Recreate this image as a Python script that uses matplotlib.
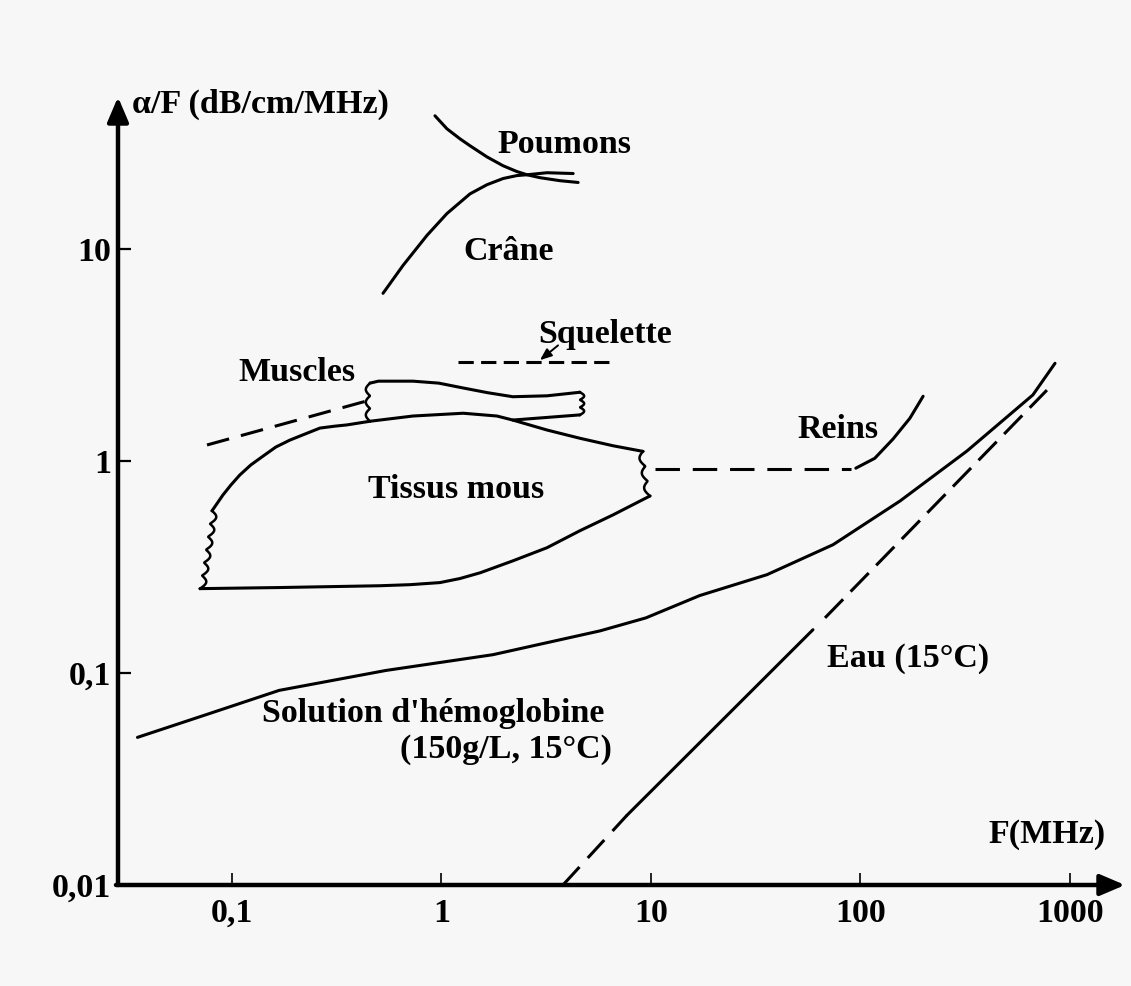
import numpy as np
import matplotlib
matplotlib.use('Agg')
import matplotlib.pyplot as plt
from matplotlib.ticker import NullLocator

plt.rcParams['font.family'] = ['Liberation Serif', 'DejaVu Serif']
plt.rcParams['font.weight'] = 'bold'

# ---- data (F in MHz, alpha/F in dB/cm/MHz) ----
poumons_f = [0.931, 1.062, 1.225, 1.368, 1.648, 1.968, 2.29, 2.56, 2.95, 3.68, 4.49]
poumons_a = [42.5, 36.9, 33.1, 30.7, 27.2, 24.7, 23.2, 22.4, 21.7, 21.0, 20.6]

crane_f = [0.526, 0.655, 0.853, 1.062, 1.368, 1.648, 1.968, 2.29, 2.56, 3.19, 4.25]
crane_a = [6.18, 8.36, 11.6, 14.7, 18.2, 20.1, 21.5, 22.2, 22.4, 22.9, 22.7]

squelette_f = [1.2, 6.73]
squelette_a = [2.92, 2.92]

muscles_dash_f = [0.076, 0.44]
muscles_dash_a = [1.19, 1.92]
muscles_top_f = [0.456, 0.50, 0.731, 0.97, 1.27, 1.66, 2.19, 3.19, 4.58]
muscles_top_a = [2.33, 2.38, 2.38, 2.33, 2.21, 2.10, 2.01, 2.03, 2.11]
muscles_low_f = [4.58, 2.19]
muscles_low_a = [1.65, 1.56]

tissus_top_f = [0.0803, 0.0906, 0.0989, 0.109, 0.123, 0.141, 0.162, 0.189, 0.223,
                0.263, 0.310, 0.354, 0.456, 0.731, 1.27, 1.84, 2.19, 3.19, 4.58,
                6.59, 9.16]
tissus_top_a = [0.582, 0.692, 0.771, 0.859, 0.958, 1.056, 1.164, 1.255, 1.34,
                1.43, 1.46, 1.48, 1.54, 1.63, 1.68, 1.63, 1.56, 1.40, 1.28,
                1.18, 1.11]
tissus_low_f = [0.0704, 0.169, 0.508, 0.708, 0.984, 1.225, 1.53, 2.19, 3.19, 4.58,
                6.59, 9.89]
tissus_low_a = [0.25, 0.253, 0.258, 0.261, 0.267, 0.279, 0.297, 0.338, 0.39, 0.469,
                0.557, 0.684]

reins_dash_f = [10.5, 90.0]
reins_dash_a = [0.917, 0.917]
reins_f = [95.0, 117, 143, 172, 199]
reins_a = [0.925, 1.03, 1.27, 1.59, 2.02]

hemo_f = [0.0354, 0.076, 0.168, 0.543, 1.76, 5.71, 9.46, 17.1, 35.8, 74,
          154.5, 322, 665, 848]
hemo_a = [0.0497, 0.0638, 0.0828, 0.1028, 0.122, 0.158, 0.182, 0.232,
          0.291, 0.403, 0.648, 1.114, 2.05, 2.89]

eau_dash1_f = [3.8, 7.67]
eau_dash1_a = [0.0100, 0.0213]
eau_f = [7.67, 59.3]
eau_a = [0.0213, 0.160]
eau_dash2_f = [67.7, 776]
eau_dash2_a = [0.182, 2.16]

xtick_vals = [0.1, 1, 10, 100, 1000]
xtick_labels = ['0,1', '1', '10', '100', '1000']
ytick_vals = [0.01, 0.1, 1, 10]
ytick_labels = ['0,01', '0,1', '1', '10']

# ---- figure ----
W, H = 1131, 986
fig = plt.figure(figsize=(W / 100, H / 100), dpi=100, facecolor='#f7f7f7')
ax = fig.add_axes([118 / W, 1 - 885 / H, (1125 - 118) / W, (885 - 97) / H])
ax.set_facecolor('none')
ax.set_xscale('log')
ax.set_yscale('log')
ax.set_xlim(10 ** -1.544, 10 ** 3.2625)
ax.set_ylim(0.01, 10 ** 1.717)

for s in ax.spines.values():
    s.set_visible(False)

# axes drawn as arrows
arrow = dict(arrowstyle='-|>,head_length=0.75,head_width=0.32', lw=3.2,
             color='black', shrinkA=0, shrinkB=0, mutation_scale=20)
ax.annotate('', xy=(0, 1), xytext=(0, 0), xycoords='axes fraction', arrowprops=arrow)
ax.annotate('', xy=(1, 0), xytext=(-0.002, 0), xycoords='axes fraction', arrowprops=arrow)

ax.set_xticks(xtick_vals)
ax.set_xticklabels(xtick_labels)
ax.set_yticks(ytick_vals)
ax.set_yticklabels(ytick_labels)
ax.xaxis.set_minor_locator(NullLocator())
ax.yaxis.set_minor_locator(NullLocator())
ax.tick_params(axis='x', direction='in', length=8.5, width=1.2, pad=9, labelsize=24.5)
ax.tick_params(axis='y', direction='in', length=9.5, width=1.6, pad=5, labelsize=24.5)

lw = 2.2
kw = dict(color='black', lw=lw, solid_capstyle='round', solid_joinstyle='round',
          dash_capstyle='butt')


def wavy(f0, a0, f1, a1, n, amp=0.022):
    # little "broken edge" squiggle between two points (decoration)
    t = np.linspace(0, 1, 24 * n)
    lx = np.log10(f0) + (np.log10(f1) - np.log10(f0)) * t
    ly = np.log10(a0) + (np.log10(a1) - np.log10(a0)) * t
    lx = lx + amp * np.abs(np.sin(np.pi * n * t))
    ax.plot(10 ** lx, 10 ** ly, color='black', lw=1.8)


# Poumons / Crâne
ax.plot(poumons_f, poumons_a, **kw)
ax.plot(crane_f, crane_a, **kw)

# Squelette
ax.plot(squelette_f, squelette_a, ls=(0, (5, 2.4)), **kw)
ax.annotate('', xy=(2.95, 2.99), xytext=(3.6, 3.51),
            arrowprops=dict(arrowstyle='-|>,head_length=0.5,head_width=0.2',
                            lw=1.4, color='black', shrinkA=0, shrinkB=0,
                            mutation_scale=14))

# Muscles
ax.plot(muscles_dash_f, muscles_dash_a, ls=(0, (7.5, 4)), **kw)
ax.plot(muscles_top_f, muscles_top_a, **kw)
ax.plot(muscles_low_f, muscles_low_a, **kw)
wavy(muscles_top_f[0], muscles_top_a[0], tissus_top_f[12], tissus_top_a[12], 3, amp=-0.02)
wavy(muscles_top_f[-1], muscles_top_a[-1], muscles_low_f[0], muscles_low_a[0], 3, amp=0.02)

# Tissus mous
ax.plot(tissus_top_f, tissus_top_a, **kw)
ax.plot(tissus_low_f, tissus_low_a, **kw)
wavy(tissus_low_f[0], tissus_low_a[0], tissus_top_f[0], tissus_top_a[0], 6, amp=0.025)
wavy(tissus_top_f[-1], tissus_top_a[-1], tissus_low_f[-1], tissus_low_a[-1], 3, amp=-0.022)

# Reins
ax.plot(reins_dash_f, reins_dash_a, ls=(0, (8, 4.2)), **kw)
ax.plot(reins_f, reins_a, **kw)

# Solution d'hémoglobine
ax.plot(hemo_f, hemo_a, **kw)

# Eau
ax.plot(eau_dash1_f, eau_dash1_a, ls=(0, (8, 4)), **kw)
ax.plot(eau_f, eau_a, **kw)
ax.plot(eau_dash2_f, eau_dash2_a, ls=(0, (8.5, 3.5)), **kw)

# ---- labels (placed in pixel coords of the picture) ----
fs = 24.5


def label(px, py, s, ha='left'):
    fig.text(px / W, 1 - py / H, s, ha=ha, va='baseline', fontsize=fs,
             fontweight='bold')


label(132, 113, 'α/F (dB/cm/MHz)')
label(497, 153, 'Poumons')
label(463, 260, 'Crâne')
label(538, 343, 'Squelette')
label(238, 381, 'Muscles')
label(368, 498, 'Tissus mous')
label(797, 438, 'Reins')
label(827, 667, 'Eau (15°C)')
label(262, 722, "Solution d'hémoglobine")
label(612, 758, '(150g/L, 15°C)', ha='right')
label(988, 843, 'F(MHz)')

fig.savefig('out.png', dpi=100, facecolor=fig.get_facecolor())
